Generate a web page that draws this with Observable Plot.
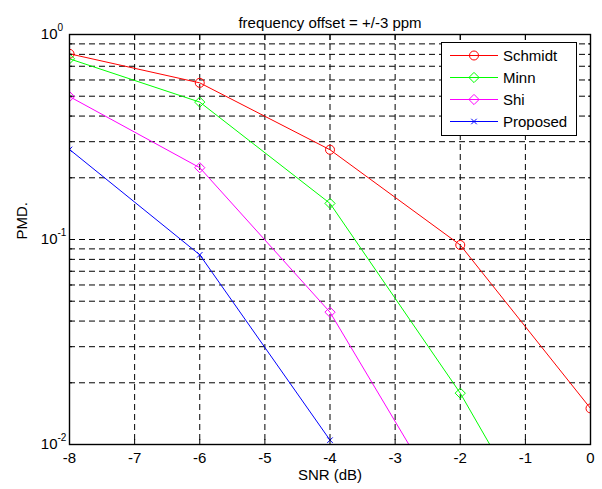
<!DOCTYPE html>
<html><head><meta charset="utf-8">
<script src="https://cdn.jsdelivr.net/npm/d3@7"></script>
<script src="https://cdn.jsdelivr.net/npm/@observablehq/plot@0.6"></script>
<style>
body{margin:0;background:#fff;}
#wrap{position:relative;width:602px;height:489px;}
#legend{position:absolute;left:441px;top:42px;}
</style></head><body><div id="wrap"></div>
<script>
const title = "frequency offset = +/-3 ppm";
const xLabel = "SNR (dB)";
const yLabel = "PMD.";
const snr = [-8, -6, -4, -2, 0];
const schmidt = [0.805, 0.581, 0.274, 0.094, 0.015];
const minn = [0.761, 0.468, 0.150, 0.0178, 0.0014];
const shi = [0.498, 0.224, 0.0442, 0.0038, null];
const proposed = [0.275, 0.0842, 0.0105, null, null];
const seriesNames = ["Schmidt", "Minn", "Shi", "Proposed"];
const seriesColors = ["#ff0000", "#00ff00", "#ff00ff", "#0000ff"];
const seriesSymbols = ["circle", "diamond2", "diamond2", "times"];
const seriesR = [4.5, 4.6, 4.6, 2.6];
const xTicks = [-8, -7, -6, -5, -4, -3, -2, -1, 0];
const xTickLabels = ["-8", "-7", "-6", "-5", "-4", "-3", "-2", "-1", "0"];
const yMajor = [1, 0.1, 0.01];
const yExp = ["0", "-1", "-2"];
const minorMult = [2, 3, 4, 5, 6, 7, 8, 9];
const decades = [0.01, 0.1];

const values = [schmidt, minn, shi, proposed];
const yMinor = decades.flatMap(d => minorMult.map(m => +(m * d).toPrecision(3)));
const yGrid = [...yMinor, 0.1];

const FONT = "'Liberation Sans', Arial, Helvetica, sans-serif";
const gridOpts = {stroke: "#000", strokeOpacity: 1, strokeWidth: 1, strokeDasharray: "6,4"};

const seriesMarks = seriesNames.flatMap((name, i) => {
  const data = snr.map((x, j) => ({x, y: values[i][j]})).filter(d => d.y != null);
  return [
    Plot.line(data, {x: "x", y: "y", stroke: seriesColors[i], strokeWidth: 1, clip: true}),
    Plot.dot(data, {x: "x", y: "y", stroke: seriesColors[i], symbol: seriesSymbols[i], r: seriesR[i], strokeWidth: 1, fill: "none", clip: true})
  ];
});

const chart = Plot.plot({
  width: 602, height: 489,
  marginLeft: 69, marginRight: 12, marginTop: 34, marginBottom: 45,
  style: {fontFamily: FONT, fontSize: "15px", background: "#fff", color: "#000"},
  x: {domain: [-8, 0]},
  y: {type: "log", domain: [0.01, 1]},
  marks: [
    Plot.gridX(xTicks.slice(1, -1), gridOpts),
    Plot.gridY(yGrid, gridOpts),
    ...seriesMarks,
    Plot.frame({stroke: "#000", strokeWidth: 1.4}),
    Plot.axisX(xTicks, {anchor: "bottom", tickSize: 0, tickPadding: 8, label: null, fontSize: 15, tickFormat: (d, i) => xTickLabels[xTicks.indexOf(d)]}),
    Plot.axisX(xTicks, {anchor: "bottom", tickSize: 5, dy: -5, tickFormat: () => "", label: null}),
    Plot.axisX(xTicks, {anchor: "top", tickSize: 5, dy: 5, tickFormat: () => "", label: null}),
    Plot.axisY(yMajor, {anchor: "left", tickSize: 5, dx: 5, tickFormat: () => "", label: null}),
    Plot.axisY(yMinor, {anchor: "left", tickSize: 3, dx: 3, tickFormat: () => "", label: null}),
    Plot.axisY(yMajor, {anchor: "right", tickSize: 5, dx: -5, tickFormat: () => "", label: null}),
    Plot.axisY(yMinor, {anchor: "right", tickSize: 3, dx: -3, tickFormat: () => "", label: null}),
    Plot.text(yMajor, {y: d => d, text: () => "10", frameAnchor: "left", textAnchor: "end", dx: -12, fontSize: 15}),
    Plot.text(yMajor, {y: d => d, text: (d, i) => yExp[i], frameAnchor: "left", textAnchor: "start", dx: -12, dy: -7, fontSize: 10}),
    Plot.text([yLabel], {text: d => d, frameAnchor: "left", rotate: -90, dx: -47, fontSize: 15}),
    Plot.text([xLabel], {text: d => d, frameAnchor: "bottom", dy: 35, fontSize: 15}),
    Plot.text([title], {text: d => d, frameAnchor: "top", dy: -17, fontSize: 15})
  ]
});
const wrap = document.getElementById("wrap");
wrap.appendChild(chart);

// legend overlay
const lw = 135, lh = 93, rowY0 = 13.5, rowDy = 22;
const leg = d3.select(wrap).append("svg").attr("id", "legend")
  .attr("width", lw + 1).attr("height", lh + 1)
  .style("font-family", FONT).style("font-size", "15px");
leg.append("rect").attr("x", 0.5).attr("y", 0.5).attr("width", lw).attr("height", lh)
  .attr("fill", "#fff").attr("stroke", "#000").attr("stroke-width", 1);
const symMap = {circle: d3.symbolCircle, diamond2: d3.symbolDiamond2, times: d3.symbolTimes};
seriesNames.forEach((name, i) => {
  const y = rowY0 + i * rowDy;
  const g = leg.append("g");
  g.append("line").attr("x1", 9).attr("x2", 57).attr("y1", y).attr("y2", y)
    .attr("stroke", seriesColors[i]).attr("stroke-width", 1);
  g.append("path").attr("transform", `translate(33,${y})`)
    .attr("d", d3.symbol(symMap[seriesSymbols[i]], Math.PI * seriesR[i] * seriesR[i])())
    .attr("fill", "none").attr("stroke", seriesColors[i]).attr("stroke-width", 1);
  g.append("text").attr("x", 62).attr("y", y).attr("dy", "0.35em").text(name);
});
</script></body></html>
